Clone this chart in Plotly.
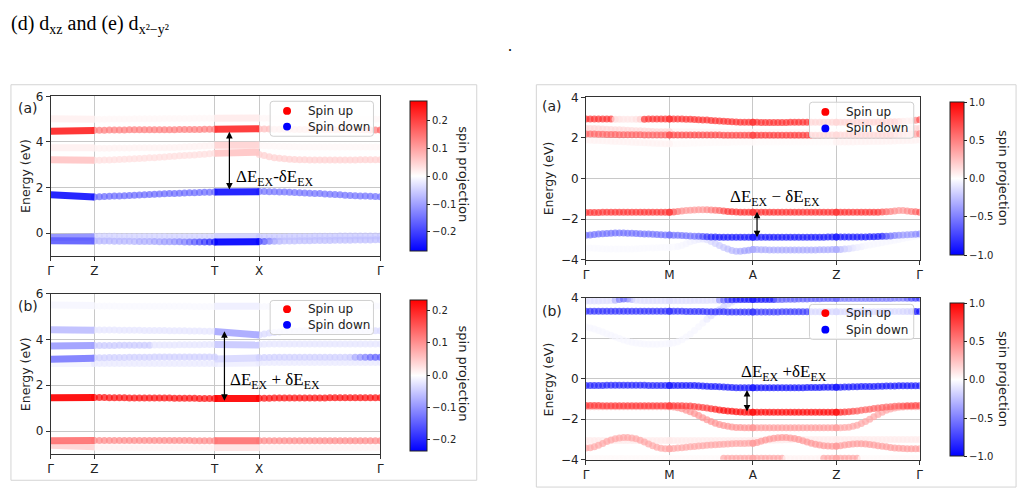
import plotly.graph_objects as go

W, H = 1027, 496

# ---------------- axes / ticks ----------------
KL_TICKS = [0.0, 0.1325, 0.497, 0.6325, 1.0]
KL_LABELS = ["Γ", "Z", "T", "X", "Γ"]
KR_TICKS = [0, 1, 2, 3, 4]
KR_LABELS = ["Γ", "M", "A", "Z", "Γ"]
LEFT_YTICKS = [0, 2, 4, 6]
LEFT_YTEXT = ["0", "2", "4", "6"]
RIGHT_YTICKS = [-4, -2, 0, 2, 4]
RIGHT_YTEXT = ["−4", "−2", "0", "2", "4"]
CB_LEFT_TICKS = [-0.2, -0.1, 0.0, 0.1, 0.2]
CB_LEFT_TEXT = ["−0.2", "−0.1", "0.0", "0.1", "0.2"]
CB_RIGHT_TICKS = [-1.0, -0.5, 0.0, 0.5, 1.0]
CB_RIGHT_TEXT = ["−1.0", "−0.5", "0.0", "0.5", "1.0"]
VMAX = [0.27, 0.235, 1.0, 1.0]
LEGEND_NAMES = ["Spin up", "Spin down"]
LEGEND_COLORS = ["red", "blue"]

# ---------------- LEFT (a) bands: Γ-Z (line), Z-T (25 pts), T-X (line), X-Γ (25 pts), spins ----------------
LA0_GZ = [5.02, 5.00]
LA0_ZT = [5.00, 5.00, 5.00, 5.01, 5.01, 5.01, 5.01, 5.01, 5.02, 5.02, 5.02, 5.02, 5.02, 5.02, 5.03,
          5.03, 5.03, 5.03, 5.03, 5.03, 5.04, 5.04, 5.04, 5.04, 5.04]
LA0_TX = [5.04, 5.05]
LA0_XG = [5.04, 5.04, 5.04, 5.03, 5.03, 5.03, 5.03, 5.03, 5.02, 5.02, 5.02, 5.02, 5.02, 5.02, 5.01,
          5.01, 5.01, 5.01, 5.01, 5.01, 5.00, 5.00, 5.00, 5.00, 5.00]
LA0_S = [0.015, 0.008, 0.02, 0.008]

LA1_GZ = [4.47, 4.50]
LA1_ZT = [4.51, 4.51, 4.51, 4.52, 4.52, 4.52, 4.52, 4.53, 4.53, 4.53, 4.53, 4.53, 4.54, 4.54, 4.54,
          4.54, 4.54, 4.55, 4.55, 4.55, 4.55, 4.55, 4.56, 4.56, 4.56]
LA1_TX = [4.56, 4.58]
LA1_XG = [4.57, 4.57, 4.57, 4.56, 4.56, 4.56, 4.56, 4.55, 4.55, 4.55, 4.55, 4.55, 4.55, 4.54, 4.54,
          4.54, 4.54, 4.54, 4.53, 4.53, 4.53, 4.53, 4.52, 4.52, 4.52]
LA1_S = [0.23, 0.14, 0.22,
         [0.07, 0.07, 0.07, 0.07, 0.07, 0.07, 0.07, 0.07, 0.07, 0.07, 0.07, 0.07, 0.07, 0.07, 0.07,
          0.07, 0.07, 0.07, 0.07, 0.07, 0.08, 0.09, 0.11, 0.14, 0.17]]

LA2_GZ = [3.22, 3.20]
LA2_ZT = [3.20, 3.20, 3.21, 3.21, 3.22, 3.23, 3.24, 3.25, 3.26, 3.27, 3.28, 3.30, 3.31, 3.33, 3.34,
          3.36, 3.37, 3.39, 3.40, 3.42, 3.43, 3.45, 3.46, 3.48, 3.50]
LA2_TX = [3.50, 3.55]
LA2_XG = [3.45, 3.40, 3.35, 3.31, 3.28, 3.26, 3.24, 3.23, 3.22, 3.22, 3.21, 3.21, 3.21, 3.21, 3.21,
          3.21, 3.21, 3.21, 3.21, 3.21, 3.22, 3.22, 3.22, 3.22, 3.22]
LA2_S = [0.06, 0.035, 0.06, 0.05]

LA2B_GZ = [3.75, 3.74]
LA2B_ZT = [3.72, 3.72, 3.72, 3.72, 3.73, 3.73, 3.73, 3.73, 3.74, 3.74, 3.74, 3.74, 3.75, 3.75, 3.75,
           3.76, 3.76, 3.77, 3.78, 3.79, 3.80, 3.81, 3.82, 3.83, 3.84]
LA2B_TX = [3.85, 3.86]
LA2B_XG = [3.84, 3.83, 3.82, 3.81, 3.80, 3.80, 3.79, 3.79, 3.78, 3.78, 3.78, 3.78, 3.78, 3.78, 3.78,
           3.78, 3.78, 3.78, 3.78, 3.78, 3.78, 3.78, 3.78, 3.78, 3.78]
LA2B_S = [0.015, 0.015, 0.045, 0.01]

LA3_GZ = [1.68, 1.58]
LA3_ZT = [1.58, 1.59, 1.60, 1.61, 1.62, 1.63, 1.64, 1.65, 1.66, 1.67, 1.68, 1.69, 1.70, 1.71, 1.72,
          1.73, 1.74, 1.75, 1.76, 1.77, 1.77, 1.78, 1.79, 1.79, 1.80]
LA3_TX = [1.80, 1.81]
LA3_XG = [1.82, 1.82, 1.81, 1.81, 1.80, 1.80, 1.79, 1.78, 1.77, 1.76, 1.75, 1.74, 1.73, 1.71, 1.70,
          1.69, 1.68, 1.66, 1.65, 1.64, 1.63, 1.62, 1.61, 1.60, 1.59]
LA3_S = [-0.25, -0.16, -0.25, -0.15]

LA4A_GZ = [-0.20, -0.18]
LA4A_ZT = [-0.14, -0.14, -0.14, -0.14, -0.14, -0.15, -0.15, -0.15, -0.15, -0.15, -0.15, -0.15, -0.15,
           -0.15, -0.15, -0.16, -0.16, -0.16, -0.16, -0.16, -0.16, -0.16, -0.17, -0.17, -0.17]
LA4A_TX = [-0.17, -0.17]
LA4A_XG = [-0.17, -0.17, -0.16, -0.16, -0.16, -0.16, -0.15, -0.15, -0.15, -0.15, -0.15, -0.14, -0.14,
           -0.14, -0.14, -0.14, -0.13, -0.13, -0.13, -0.13, -0.13, -0.13, -0.13, -0.13, -0.13]
LA4A_S = [-0.12, -0.05, -0.05, -0.06]

LA4_GZ = [-0.34, -0.35]
LA4_ZT = [-0.35, -0.35, -0.35, -0.35, -0.36, -0.36, -0.36, -0.36, -0.37, -0.37, -0.37, -0.37, -0.37,
          -0.38, -0.38, -0.38, -0.38, -0.38, -0.39, -0.39, -0.39, -0.39, -0.40, -0.40, -0.40]
LA4_TX = [-0.40, -0.38]
LA4_XG = [-0.37, -0.37, -0.36, -0.36, -0.36, -0.35, -0.35, -0.35, -0.34, -0.34, -0.34, -0.33, -0.33,
          -0.33, -0.33, -0.32, -0.32, -0.32, -0.32, -0.31, -0.31, -0.31, -0.31, -0.30, -0.30]
LA4_S = [-0.17,
         [-0.08, -0.08, -0.08, -0.08, -0.08, -0.08, -0.08, -0.08, -0.08, -0.09, -0.09, -0.09, -0.10,
          -0.10, -0.11, -0.11, -0.12, -0.13, -0.14, -0.16, -0.18, -0.20, -0.22, -0.24, -0.26],
         -0.27,
         [-0.22, -0.18, -0.14, -0.10, -0.08, -0.07, -0.07, -0.07, -0.07, -0.07, -0.07, -0.07, -0.07,
          -0.07, -0.07, -0.07, -0.07, -0.07, -0.07, -0.07, -0.07, -0.07, -0.07, -0.07, -0.07]]

# ---------------- LEFT (b) bands ----------------
LB7_GZ = [5.50, 5.48]
LB7_ZT = [5.46, 5.46, 5.46, 5.46, 5.46, 5.45, 5.45, 5.45, 5.45, 5.45, 5.45, 5.45, 5.45, 5.45, 5.45,
          5.45, 5.45, 5.45, 5.45, 5.45, 5.44, 5.44, 5.44, 5.44, 5.44]
LB7_TX = [5.45, 5.45]
LB7_XG = [5.44, 5.44, 5.44, 5.44, 5.44, 5.45, 5.45, 5.45, 5.45, 5.45, 5.45, 5.45, 5.45, 5.45, 5.45,
          5.45, 5.45, 5.45, 5.45, 5.45, 5.46, 5.46, 5.46, 5.46, 5.46]
LB7_S = [-0.008, -0.006, -0.015, -0.006]

LB3_GZ = [4.43, 4.40]
LB3_ZT = [4.41, 4.41, 4.41, 4.41, 4.41, 4.40, 4.40, 4.40, 4.40, 4.40, 4.39, 4.39, 4.39, 4.39, 4.39,
          4.38, 4.38, 4.38, 4.38, 4.37, 4.37, 4.37, 4.36, 4.36, 4.36]
LB3_TX = [4.35, 4.20]
LB3_XG = [4.20, 4.24, 4.28, 4.31, 4.33, 4.35, 4.36, 4.37, 4.38, 4.38, 4.38, 4.38, 4.38, 4.38, 4.38,
          4.38, 4.38, 4.38, 4.38, 4.38, 4.38, 4.38, 4.38, 4.38, 4.38]
LB3_S = [-0.06, -0.025, -0.08, -0.035]

LB4_GZ = [3.72, 3.74]
LB4_ZT = [3.74, 3.74, 3.74, 3.74, 3.74, 3.75, 3.75, 3.75, 3.75, 3.75, 3.75, 3.75, 3.76, 3.76, 3.76,
          3.76, 3.76, 3.77, 3.77, 3.77, 3.77, 3.77, 3.78, 3.78, 3.78]
LB4_TX = [3.78, 3.76]
LB4_XG = [3.78, 3.79, 3.80, 3.80, 3.80, 3.80, 3.80, 3.80, 3.80, 3.80, 3.80, 3.80, 3.80, 3.80, 3.80,
          3.80, 3.80, 3.80, 3.80, 3.80, 3.80, 3.80, 3.80, 3.80, 3.80]
LB4_S = [-0.09,
         [-0.05, -0.05, -0.05, -0.05, -0.05, -0.05, -0.05, -0.05, -0.05, -0.05, -0.05, -0.05, -0.025,
          -0.025, -0.025, -0.025, -0.025, -0.025, -0.025, -0.025, -0.025, -0.025, -0.025, -0.025, -0.025],
         -0.05, -0.025]

LB5_GZ = [3.14, 3.18]
LB5_ZT = [3.20, 3.20, 3.20, 3.21, 3.21, 3.21, 3.21, 3.22, 3.22, 3.22, 3.22, 3.22, 3.23, 3.23, 3.23,
          3.23, 3.23, 3.24, 3.24, 3.24, 3.24, 3.24, 3.24, 3.24, 3.24]
LB5_TX = [3.15, 3.20]
LB5_XG = [3.20, 3.21, 3.21, 3.22, 3.22, 3.22, 3.22, 3.22, 3.22, 3.22, 3.22, 3.22, 3.22, 3.22, 3.22,
          3.22, 3.22, 3.22, 3.22, 3.22, 3.22, 3.22, 3.22, 3.22, 3.22]
LB5_S = [-0.12, -0.045, -0.035,
         [-0.045, -0.045, -0.045, -0.045, -0.045, -0.045, -0.045, -0.045, -0.045, -0.045, -0.045, -0.045,
          -0.045, -0.045, -0.045, -0.045, -0.045, -0.045, -0.05, -0.08, -0.10, -0.12, -0.14, -0.15, -0.15]]

LB6_GZ = [2.95, 2.95]
LB6_ZT = [2.95, 2.95, 2.95, 2.95, 2.95, 2.95, 2.95, 2.95, 2.95, 2.95, 2.95, 2.95, 2.95, 2.95, 2.95,
          2.95, 2.95, 2.95, 2.95, 2.95, 2.95, 2.95, 2.95, 2.95, 2.95]
LB6_TX = [2.95, 2.97]
LB6_XG = [2.98, 2.99, 3.00, 3.00, 3.00, 3.00, 3.00, 3.00, 3.00, 3.00, 3.00, 3.00, 3.00, 3.00, 3.00,
          3.00, 3.00, 3.00, 3.00, 3.00, 3.00, 3.00, 3.00, 3.00, 3.00]
LB6_S = [-0.01, -0.02, -0.015, -0.02]

LB1_GZ = [1.46, 1.47]
LB1_ZT = [1.47, 1.47, 1.47, 1.46, 1.46, 1.46, 1.46, 1.45, 1.45, 1.45, 1.45, 1.44, 1.44, 1.44, 1.44,
          1.44, 1.43, 1.43, 1.43, 1.43, 1.43, 1.42, 1.42, 1.42, 1.42]
LB1_TX = [1.42, 1.42]
LB1_XG = [1.43, 1.43, 1.43, 1.44, 1.44, 1.44, 1.44, 1.44, 1.45, 1.45, 1.45, 1.45, 1.45, 1.45, 1.46,
          1.46, 1.46, 1.46, 1.46, 1.46, 1.46, 1.46, 1.46, 1.46, 1.46]
LB1_S = [0.235, 0.225, 0.235, 0.225]

LB2_GZ = [-0.42, -0.41]
LB2_ZT = [-0.41, -0.41, -0.41, -0.41, -0.41, -0.41, -0.41, -0.41, -0.41, -0.41, -0.41, -0.41, -0.41,
          -0.41, -0.41, -0.41, -0.41, -0.41, -0.41, -0.41, -0.42, -0.42, -0.42, -0.42, -0.42]
LB2_TX = [-0.42, -0.42]
LB2_XG = [-0.42, -0.42, -0.42, -0.42, -0.42, -0.42, -0.42, -0.42, -0.42, -0.42, -0.42, -0.42, -0.42,
          -0.42, -0.42, -0.42, -0.42, -0.42, -0.42, -0.42, -0.42, -0.42, -0.42, -0.42, -0.42]
LB2_S = [0.13, 0.11, 0.13, 0.11]

LB2B_GZ = [-0.62, -0.68]
LB2B_ZT = [-0.70, -0.70, -0.71, -0.71, -0.71, -0.72, -0.72, -0.72, -0.72, -0.72, -0.72, -0.72, -0.72,
           -0.72, -0.72, -0.72, -0.72, -0.72, -0.72, -0.72, -0.72, -0.72, -0.72, -0.72, -0.72]
LB2B_TX = [-0.72, -0.72]
LB2B_XG = [-0.72, -0.72, -0.72, -0.72, -0.72, -0.72, -0.72, -0.72, -0.72, -0.72, -0.72, -0.72, -0.72,
           -0.72, -0.72, -0.72, -0.72, -0.72, -0.72, -0.72, -0.72, -0.72, -0.72, -0.72, -0.72]
LB2B_S = [0.04, 0.012, 0.025, 0.012]

# ---------------- RIGHT (a) bands: Γ-M, M-A, A-Z, Z-Γ (21 pts each) ----------------
RA1_E = [[2.93, 2.93, 2.93, 2.93, 2.93, 2.93, 2.93, 2.92, 2.92, 2.92, 2.92, 2.92, 2.92, 2.92, 2.92, 2.93, 2.93, 2.93, 2.93, 2.93, 2.93],
         [2.93, 2.93, 2.93, 2.93, 2.92, 2.92, 2.91, 2.90, 2.89, 2.88, 2.86, 2.85, 2.84, 2.82, 2.81, 2.80, 2.79, 2.78, 2.78, 2.77, 2.77],
         [2.77, 2.77, 2.76, 2.76, 2.76, 2.76, 2.76, 2.76, 2.76, 2.77, 2.77, 2.77, 2.77, 2.77, 2.77, 2.78, 2.78, 2.78, 2.78, 2.78, 2.78],
         [2.78, 2.78, 2.78, 2.78, 2.78, 2.78, 2.78, 2.78, 2.78, 2.78, 2.79, 2.79, 2.79, 2.80, 2.80, 2.81, 2.82, 2.83, 2.85, 2.87, 2.90]]
RA1_S = [[0.8, 0.8, 0.8, 0.8, 0.8, 0.8, 0.8, 0.15, 0.12, 0.1, 0.1, 0.1, 0.12, 0.2, 0.8, 0.8, 0.8, 0.8, 0.8, 0.8, 0.8],
         0.8, 0.8,
         [0.8, 0.8, 0.8, 0.8, 0.8, 0.8, 0.8, 0.8, 0.8, 0.8, 0.8, 0.8, 0.8, 0.8, 0.8, 0.6, 0.4, 0.3, 0.3, 0.45, 0.7]]

RA2_E = [[2.20, 2.19, 2.19, 2.18, 2.18, 2.17, 2.17, 2.17, 2.16, 2.16, 2.16, 2.16, 2.16, 2.16, 2.15, 2.15, 2.15, 2.15, 2.15, 2.15, 2.15],
         [2.15, 2.15, 2.15, 2.15, 2.15, 2.15, 2.14, 2.14, 2.14, 2.14, 2.14, 2.14, 2.14, 2.13, 2.13, 2.13, 2.13, 2.13, 2.13, 2.13, 2.13],
         [2.13, 2.13, 2.13, 2.13, 2.13, 2.13, 2.13, 2.13, 2.13, 2.13, 2.13, 2.13, 2.13, 2.13, 2.13, 2.13, 2.13, 2.14, 2.14, 2.14, 2.14],
         [2.14, 2.14, 2.14, 2.14, 2.14, 2.14, 2.14, 2.14, 2.14, 2.14, 2.14, 2.15, 2.15, 2.15, 2.16, 2.16, 2.17, 2.18, 2.19, 2.20, 2.21]]
RA2_S = [0.6, 0.7, 0.75,
         [0.75, 0.75, 0.75, 0.75, 0.75, 0.75, 0.75, 0.75, 0.75, 0.75, 0.75, 0.75, 0.75, 0.75, 0.6, 0.5, 0.4, 0.35, 0.3, 0.35, 0.5]]

RA3_E = [[2.48, 2.47, 2.46, 2.45, 2.44, 2.43, 2.42, 2.41, 2.40, 2.39, 2.38, 2.37, 2.36, 2.35, 2.34, 2.33, 2.32, 2.31, 2.30, 2.30, 2.30],
         [2.30, 2.30, 2.30, 2.30, 2.30, 2.30, 2.30, 2.29, 2.29, 2.29, 2.29, 2.29, 2.29, 2.29, 2.28, 2.28, 2.28, 2.28, 2.28, 2.28, 2.28],
         [2.28, 2.28, 2.28, 2.28, 2.28, 2.28, 2.28, 2.28, 2.28, 2.28, 2.28, 2.28, 2.28, 2.28, 2.28, 2.28, 2.28, 2.28, 2.28, 2.28, 2.28],
         [2.28, 2.28, 2.28, 2.28, 2.29, 2.29, 2.30, 2.30, 2.31, 2.32, 2.33, 2.34, 2.35, 2.36, 2.38, 2.39, 2.41, 2.43, 2.45, 2.47, 2.48]]
RA3_S = [0.15, 0.04, 0.03,
         [0.03, 0.03, 0.03, 0.03, 0.03, 0.03, 0.03, 0.03, 0.03, 0.03, 0.03, 0.03, 0.03, 0.03, 0.06, 0.08, 0.10, 0.12, 0.15, 0.17, 0.17]]

RA4_E = [[1.90, 1.89, 1.88, 1.87, 1.86, 1.85, 1.84, 1.83, 1.82, 1.81, 1.80, 1.79, 1.78, 1.77, 1.76, 1.75, 1.74, 1.73, 1.73, 1.72, 1.72],
         [1.72, 1.72, 1.72, 1.73, 1.73, 1.74, 1.74, 1.75, 1.75, 1.76, 1.76, 1.77, 1.77, 1.78, 1.78, 1.79, 1.79, 1.80, 1.80, 1.80, 1.80],
         [1.80, 1.80, 1.80, 1.80, 1.80, 1.80, 1.80, 1.80, 1.80, 1.80, 1.80, 1.80, 1.80, 1.80, 1.80, 1.80, 1.80, 1.80, 1.80, 1.80, 1.80],
         [1.80, 1.80, 1.80, 1.80, 1.80, 1.81, 1.81, 1.81, 1.82, 1.82, 1.83, 1.83, 1.84, 1.84, 1.85, 1.86, 1.86, 1.87, 1.88, 1.89, 1.90]]
RA4_S = [0.05, 0.02, 0.015, 0.05]

RA5_E = [[-1.67, -1.67, -1.67, -1.67, -1.66, -1.66, -1.66, -1.66, -1.66, -1.66, -1.66, -1.66, -1.66, -1.66, -1.66, -1.66, -1.66, -1.66, -1.66, -1.66, -1.66],
         [-1.66, -1.65, -1.63, -1.60, -1.58, -1.56, -1.55, -1.54, -1.54, -1.54, -1.55, -1.56, -1.58, -1.60, -1.62, -1.64, -1.65, -1.66, -1.66, -1.66, -1.66],
         [-1.66, -1.66, -1.66, -1.66, -1.66, -1.66, -1.66, -1.66, -1.66, -1.66, -1.66, -1.66, -1.66, -1.66, -1.66, -1.66, -1.66, -1.66, -1.66, -1.66, -1.66],
         [-1.66, -1.66, -1.66, -1.66, -1.66, -1.66, -1.66, -1.66, -1.66, -1.66, -1.66, -1.65, -1.64, -1.62, -1.60, -1.58, -1.58, -1.60, -1.62, -1.64, -1.66]]
RA5_S = [0.78,
         [0.78, 0.7, 0.55, 0.45, 0.4, 0.4, 0.4, 0.4, 0.4, 0.45, 0.5, 0.55, 0.6, 0.7, 0.78, 0.8, 0.8, 0.8, 0.8, 0.8, 0.8],
         0.8,
         [0.8, 0.8, 0.8, 0.8, 0.8, 0.8, 0.8, 0.8, 0.8, 0.8, 0.8, 0.7, 0.6, 0.5, 0.45, 0.4, 0.4, 0.45, 0.5, 0.6, 0.7]]

RA6_E = [[-2.80, -2.78, -2.76, -2.74, -2.72, -2.71, -2.70, -2.69, -2.69, -2.69, -2.70, -2.70, -2.71, -2.72, -2.73, -2.74, -2.75, -2.76, -2.77, -2.78, -2.79],
         [-2.79, -2.80, -2.80, -2.81, -2.82, -2.83, -2.84, -2.85, -2.86, -2.87, -2.88, -2.88, -2.89, -2.89, -2.90, -2.90, -2.90, -2.90, -2.90, -2.90, -2.90],
         [-2.90, -2.90, -2.90, -2.90, -2.90, -2.90, -2.90, -2.90, -2.90, -2.90, -2.90, -2.90, -2.89, -2.89, -2.89, -2.89, -2.89, -2.89, -2.88, -2.88, -2.88],
         [-2.88, -2.88, -2.88, -2.88, -2.88, -2.88, -2.88, -2.88, -2.87, -2.87, -2.86, -2.85, -2.84, -2.83, -2.81, -2.80, -2.78, -2.77, -2.76, -2.75, -2.74]]
RA6_S = [-0.55,
         [-0.55, -0.55, -0.55, -0.55, -0.55, -0.55, -0.55, -0.6, -0.7, -0.8, -0.85, -0.9, -0.9, -0.9, -0.9, -0.9, -0.9, -0.9, -0.9, -0.9, -0.9],
         -0.9,
         [-0.9, -0.9, -0.9, -0.9, -0.9, -0.9, -0.9, -0.9, -0.9, -0.9, -0.9, -0.9, -0.7, -0.6, -0.5, -0.45, -0.4, -0.4, -0.4, -0.45, -0.5]]

RA7_E = [[-3.42, -3.43, -3.44, -3.45, -3.46, -3.47, -3.48, -3.48, -3.48, -3.48, -3.48, -3.47, -3.46, -3.45, -3.44, -3.43, -3.42, -3.41, -3.40, -3.40, -3.40],
         [-3.40, -3.38, -3.35, -3.30, -3.22, -3.12, -3.05, -3.00, -2.98, -3.02, -3.10, -3.20, -3.30, -3.40, -3.48, -3.55, -3.58, -3.58, -3.56, -3.53, -3.50],
         [-3.50, -3.50, -3.51, -3.51, -3.52, -3.52, -3.52, -3.52, -3.52, -3.52, -3.52, -3.52, -3.52, -3.52, -3.52, -3.52, -3.51, -3.51, -3.51, -3.50, -3.50],
         [-3.50, -3.50, -3.48, -3.46, -3.43, -3.40, -3.36, -3.32, -3.28, -3.24, -3.20, -3.16, -3.12, -3.08, -3.04, -3.00, -2.96, -2.92, -2.88, -2.84, -2.80]]
RA7_S = [-0.025,
         [-0.025, -0.025, -0.03, -0.03, -0.04, -0.05, -0.06, -0.08, -0.1, -0.12, -0.15, -0.18, -0.2, -0.22, -0.25, -0.28, -0.3, -0.33, -0.36, -0.38, -0.4],
         -0.33,
         [-0.33, -0.28, -0.22, -0.17, -0.12, -0.08, -0.06, -0.04, -0.03, -0.03, -0.03, -0.03, -0.03, -0.03, -0.03, -0.03, -0.03, -0.03, -0.03, -0.03, -0.03]]

# ---------------- RIGHT (b) bands ----------------
RB1_E = [[3.83, 3.83, 3.83, 3.83, 3.84, 3.84, 3.85, 3.87, 3.90, 3.93, 3.93, 3.90, 3.87, 3.85, 3.84, 3.84, 3.84, 3.84, 3.84, 3.84, 3.84],
         [3.84, 3.84, 3.84, 3.84, 3.84, 3.84, 3.85, 3.85, 3.86, 3.86, 3.87, 3.87, 3.88, 3.88, 3.89, 3.89, 3.90, 3.90, 3.90, 3.90, 3.90],
         [3.90, 3.90, 3.90, 3.90, 3.90, 3.91, 3.91, 3.91, 3.92, 3.92, 3.92, 3.93, 3.93, 3.93, 3.94, 3.94, 3.94, 3.95, 3.95, 3.95, 3.95],
         [3.95, 3.95, 3.95, 3.95, 3.95, 3.95, 3.95, 3.95, 3.95, 3.95, 3.95, 3.95, 3.95, 3.95, 3.96, 3.96, 3.96, 3.96, 3.96, 3.96, 3.96]]
RB1_S = [[-0.12, -0.12, -0.12, -0.12, -0.12, -0.12, -0.12, -0.3, -0.5, -0.6, -0.5, -0.3, -0.12, -0.12, -0.12, -0.12, -0.12, -0.12, -0.12, -0.12, -0.12],
         [-0.12, -0.12, -0.12, -0.12, -0.12, -0.12, -0.12, -0.12, -0.12, -0.12, -0.12, -0.12, -0.4, -0.6, -0.75, -0.85, -0.9, -0.9, -0.9, -0.9, -0.9],
         [-0.9, -0.9, -0.9, -0.9, -0.9, -0.9, -0.6, -0.6, -0.6, -0.6, -0.6, -0.6, -0.6, -0.6, -0.6, -0.6, -0.6, -0.6, -0.6, -0.6, -0.6],
         [-0.5, -0.5, -0.5, -0.5, -0.5, -0.5, -0.5, -0.5, -0.5, -0.5, -0.5, -0.5, -0.5, -0.5, -0.5, -0.5, -0.5, -0.6, -0.7, -0.75, -0.8]]

RB2_E = [[3.32, 3.32, 3.32, 3.32, 3.32, 3.32, 3.32, 3.32, 3.32, 3.32, 3.32, 3.32, 3.32, 3.32, 3.32, 3.32, 3.32, 3.32, 3.32, 3.32, 3.32],
         [3.32, 3.32, 3.32, 3.32, 3.31, 3.31, 3.31, 3.31, 3.31, 3.30, 3.30, 3.30, 3.30, 3.30, 3.29, 3.29, 3.29, 3.29, 3.29, 3.29, 3.29],
         [3.29, 3.29, 3.29, 3.29, 3.29, 3.29, 3.29, 3.30, 3.30, 3.30, 3.30, 3.30, 3.30, 3.30, 3.30, 3.30, 3.30, 3.30, 3.30, 3.30, 3.30],
         [3.30, 3.30, 3.30, 3.30, 3.30, 3.30, 3.30, 3.30, 3.30, 3.30, 3.30, 3.31, 3.31, 3.31, 3.31, 3.31, 3.31, 3.31, 3.31, 3.31, 3.31]]
RB2_S = [-0.8, -0.8, -0.75,
         [-0.7, -0.7, -0.7, -0.7, -0.7, -0.7, -0.7, -0.7, -0.7, -0.7, -0.7, -0.7, -0.7, -0.7, -0.7, -0.7, -0.8, -0.85, -0.9, -0.95, -0.95]]

RB3_E = [[2.55, 2.50, 2.45, 2.38, 2.30, 2.22, 2.14, 2.06, 1.98, 1.91, 1.85, 1.80, 1.76, 1.73, 1.71, 1.70, 1.70, 1.70, 1.71, 1.72, 1.73],
         [1.73, 1.76, 1.82, 1.92, 2.05, 2.20, 2.38, 2.56, 2.75, 2.93, 3.10, 3.25, 3.40, 3.55, 3.68, 3.78, 3.85, 3.88, 3.90, 3.92, 3.93],
         [3.93, 3.95, 3.96, 3.97, 3.97, 3.97, 3.97, 3.97, 3.97, 3.97, 3.97, 3.97, 3.97, 3.97, 3.97, 3.97, 3.97, 3.97, 3.97, 3.97, 3.97],
         [3.97, 3.97, 3.97, 3.97, 3.97, 3.97, 3.97, 3.97, 3.97, 3.97, 3.98, 3.98, 3.98, 3.98, 3.98, 3.98, 3.99, 3.99, 3.99, 3.99, 3.99]]
RB3_S = [-0.03,
         [-0.03, -0.03, -0.03, -0.03, -0.03, -0.03, -0.03, -0.03, -0.04, -0.08, -0.12, -0.15, -0.18, -0.18, -0.15, -0.12, -0.1, -0.08, -0.08, -0.08, -0.08],
         -0.06, -0.05]

RB4_E = [[-0.34, -0.34, -0.33, -0.33, -0.33, -0.32, -0.32, -0.32, -0.32, -0.32, -0.32, -0.32, -0.32, -0.32, -0.32, -0.33, -0.33, -0.33, -0.33, -0.33, -0.33],
         [-0.33, -0.33, -0.33, -0.33, -0.33, -0.34, -0.34, -0.35, -0.36, -0.37, -0.38, -0.39, -0.40, -0.41, -0.42, -0.43, -0.44, -0.44, -0.45, -0.45, -0.45],
         [-0.45, -0.45, -0.45, -0.45, -0.45, -0.45, -0.45, -0.44, -0.44, -0.44, -0.44, -0.44, -0.44, -0.43, -0.43, -0.43, -0.43, -0.42, -0.42, -0.42, -0.42],
         [-0.42, -0.42, -0.41, -0.41, -0.40, -0.40, -0.39, -0.39, -0.38, -0.38, -0.37, -0.37, -0.36, -0.36, -0.36, -0.35, -0.35, -0.35, -0.35, -0.35, -0.35]]
RB4_S = [-0.85, -0.9, -0.92, -0.9]

RB5_E = [[-1.32, -1.32, -1.32, -1.32, -1.33, -1.33, -1.33, -1.33, -1.33, -1.33, -1.33, -1.33, -1.33, -1.33, -1.33, -1.33, -1.33, -1.33, -1.33, -1.33, -1.33],
         [-1.33, -1.33, -1.33, -1.33, -1.34, -1.35, -1.37, -1.39, -1.42, -1.45, -1.48, -1.51, -1.54, -1.57, -1.59, -1.61, -1.63, -1.64, -1.65, -1.65, -1.65],
         [-1.65, -1.65, -1.65, -1.65, -1.65, -1.65, -1.65, -1.65, -1.65, -1.65, -1.65, -1.65, -1.65, -1.65, -1.65, -1.65, -1.65, -1.65, -1.65, -1.65, -1.65],
         [-1.65, -1.65, -1.64, -1.63, -1.61, -1.59, -1.56, -1.53, -1.50, -1.47, -1.44, -1.42, -1.40, -1.38, -1.36, -1.35, -1.34, -1.33, -1.33, -1.32, -1.32]]
RB5_S = [0.75,
         [0.75, 0.75, 0.75, 0.75, 0.75, 0.75, 0.75, 0.75, 0.75, 0.75, 0.8, 0.85, 0.9, 0.95, 0.95, 0.95, 0.95, 0.95, 0.95, 0.95, 0.95],
         0.95,
         [0.9, 0.85, 0.8, 0.75, 0.7, 0.65, 0.6, 0.6, 0.6, 0.6, 0.6, 0.6, 0.6, 0.6, 0.6, 0.6, 0.65, 0.7, 0.7, 0.7, 0.7]]

RB6_E = [[-1.38, -1.38, -1.38, -1.38, -1.38, -1.38, -1.38, -1.38, -1.38, -1.38, -1.38, -1.38, -1.38, -1.38, -1.38, -1.38, -1.38, -1.38, -1.38, -1.38, -1.38],
         [-1.38, -1.40, -1.43, -1.48, -1.55, -1.63, -1.72, -1.82, -1.92, -2.02, -2.11, -2.19, -2.26, -2.31, -2.35, -2.38, -2.40, -2.41, -2.42, -2.42, -2.42],
         [-2.42, -2.42, -2.42, -2.42, -2.42, -2.42, -2.42, -2.42, -2.42, -2.42, -2.42, -2.42, -2.42, -2.42, -2.42, -2.42, -2.42, -2.42, -2.42, -2.42, -2.42],
         [-2.42, -2.42, -2.41, -2.39, -2.35, -2.29, -2.21, -2.11, -2.00, -1.88, -1.76, -1.65, -1.56, -1.49, -1.44, -1.41, -1.39, -1.38, -1.38, -1.38, -1.38]]
RB6_S = [0.3, 0.42, 0.38, 0.35]

RB7_E = [[-3.42, -3.40, -3.35, -3.28, -3.19, -3.10, -3.02, -2.96, -2.92, -2.90, -2.90, -2.92, -2.96, -3.03, -3.12, -3.22, -3.31, -3.38, -3.43, -3.45, -3.45],
         [-3.45, -3.44, -3.42, -3.40, -3.38, -3.36, -3.34, -3.32, -3.30, -3.28, -3.27, -3.25, -3.24, -3.23, -3.22, -3.21, -3.20, -3.20, -3.19, -3.18, -3.18],
         [-3.18, -3.14, -3.08, -3.02, -2.97, -2.93, -2.91, -2.90, -2.90, -2.92, -2.95, -3.00, -3.06, -3.12, -3.18, -3.23, -3.27, -3.30, -3.32, -3.33, -3.33],
         [-3.32, -3.30, -3.27, -3.24, -3.22, -3.21, -3.21, -3.22, -3.24, -3.27, -3.30, -3.33, -3.36, -3.39, -3.41, -3.43, -3.44, -3.45, -3.45, -3.45, -3.45]]
RB7_S = [0.35, 0.35, 0.4, 0.38]

RB8_E = [[-3.05, -3.05, -3.05, -3.05, -3.05, -3.05, -3.05, -3.05, -3.05, -3.05, -3.05, -3.05, -3.05, -3.05, -3.05, -3.05, -3.05, -3.05, -3.05, -3.05, -3.05],
         [-3.05, -3.05, -3.05, -3.05, -3.05, -3.05, -3.05, -3.05, -3.05, -3.05, -3.05, -3.05, -3.05, -3.05, -3.05, -3.05, -3.05, -3.05, -3.05, -3.05, -3.05],
         [-3.05, -3.05, -3.04, -3.04, -3.03, -3.03, -3.02, -3.02, -3.01, -3.01, -3.00, -3.00, -3.00, -3.00, -3.00, -3.00, -3.00, -3.00, -3.00, -3.00, -3.00],
         [-3.00, -3.00, -3.00, -3.00, -3.00, -3.00, -3.00, -3.00, -3.00, -3.00, -3.00, -3.00, -3.00, -3.00, -3.00, -3.00, -3.00, -3.00, -3.00, -3.00, -3.00]]
RB8_S = [0.08, 0.08, 0.08, 0.08]

RB9_E = [[-3.93, -3.93, -3.93, -3.93, -3.93, -3.93, -3.93, -3.93, -3.93, -3.93, -3.93, -3.93, -3.93, -3.93, -3.93, -3.93, -3.93, -3.93, -3.93, -3.93, -3.93],
         [-3.93, -3.93, -3.93, -3.93, -3.93, -3.93, -3.93, -3.93, -3.93, -3.93, -3.93, -3.93, -3.93, -3.92, -3.92, -3.92, -3.92, -3.92, -3.92, -3.92, -3.92],
         [-3.92, -3.92, -3.92, -3.92, -3.92, -3.92, -3.92, -3.92, -3.92, -3.93, -3.93, -3.93, -3.93, -3.93, -3.93, -3.93, -3.92, -3.92, -3.92, -3.92, -3.92],
         [-3.92, -3.92, -3.92, -3.92, -3.92, -3.92, -3.93, -3.93, -3.93, -3.93, -3.93, -3.93, -3.93, -3.93, -3.93, -3.93, -3.93, -3.93, -3.93, -3.93, -3.93]]
RB9_S = [0.02,
         [0.02, 0.02, 0.02, 0.02, 0.02, 0.02, 0.02, 0.02, 0.02, 0.02, 0.02, 0.02, 0.02, 0.35, 0.35, 0.35, 0.35, 0.35, 0.35, 0.35, 0.35],
         [0.35, 0.35, 0.35, 0.35, 0.35, 0.35, 0.35, 0.35, 0.05, 0.05, 0.05, 0.05, 0.05, 0.05, 0.05, 0.05, 0.05, 0.35, 0.35, 0.35, 0.35],
         [0.35, 0.35, 0.35, 0.35, 0.35, 0.35, 0.02, 0.02, 0.02, 0.02, 0.02, 0.02, 0.02, 0.02, 0.02, 0.02, 0.02, 0.02, 0.02, 0.02, 0.02]]

LEFT_A_BANDS = [
    (LA0_GZ, LA0_ZT, LA0_TX, LA0_XG, LA0_S),
    (LA1_GZ, LA1_ZT, LA1_TX, LA1_XG, LA1_S),
    (LA2_GZ, LA2_ZT, LA2_TX, LA2_XG, LA2_S),
    (LA2B_GZ, LA2B_ZT, LA2B_TX, LA2B_XG, LA2B_S),
    (LA3_GZ, LA3_ZT, LA3_TX, LA3_XG, LA3_S),
    (LA4A_GZ, LA4A_ZT, LA4A_TX, LA4A_XG, LA4A_S),
    (LA4_GZ, LA4_ZT, LA4_TX, LA4_XG, LA4_S),
]
LEFT_B_BANDS = [
    (LB7_GZ, LB7_ZT, LB7_TX, LB7_XG, LB7_S),
    (LB3_GZ, LB3_ZT, LB3_TX, LB3_XG, LB3_S),
    (LB4_GZ, LB4_ZT, LB4_TX, LB4_XG, LB4_S),
    (LB5_GZ, LB5_ZT, LB5_TX, LB5_XG, LB5_S),
    (LB6_GZ, LB6_ZT, LB6_TX, LB6_XG, LB6_S),
    (LB1_GZ, LB1_ZT, LB1_TX, LB1_XG, LB1_S),
    (LB2_GZ, LB2_ZT, LB2_TX, LB2_XG, LB2_S),
    (LB2B_GZ, LB2B_ZT, LB2B_TX, LB2B_XG, LB2B_S),
]
RIGHT_A_BANDS = [(RA1_E, RA1_S), (RA2_E, RA2_S), (RA3_E, RA3_S), (RA4_E, RA4_S),
                 (RA5_E, RA5_S), (RA6_E, RA6_S), (RA7_E, RA7_S)]
RIGHT_B_BANDS = [(RB1_E, RB1_S), (RB2_E, RB2_S), (RB3_E, RB3_S), (RB4_E, RB4_S), (RB5_E, RB5_S),
                 (RB6_E, RB6_S), (RB7_E, RB7_S), (RB8_E, RB8_S), (RB9_E, RB9_S)]

# ---------------- helpers ----------------
BWR = [[0.0, "rgb(0,0,255)"], [0.5, "rgb(255,255,255)"], [1.0, "rgb(255,0,0)"]]
FONT = "DejaVu Sans"
SERIF = "Liberation Serif"


def px(x):
    return x / W


def py(y):
    return 1 - y / H


def bwr_rgb(v, vmax):
    t = max(-1.0, min(1.0, v / vmax))
    if t >= 0:
        return 255, 255 * (1 - t), 255 * (1 - t)
    return 255 * (1 + t), 255 * (1 + t), 255


def per_point(s, n):
    if isinstance(s, (list, tuple)):
        s = list(s)
        return (s + [s[-1]] * n)[:n]
    return [s] * n


items = {}


def add(panel, weight, trace):
    items.setdefault(panel, []).append((weight, trace))


def add_left(panel, bands, xa, ya, cax, vmax, msize=7, mop=0.72):
    for band in bands:
        segs, spins = band[:4], band[4]
        for si, vals in enumerate(segs):
            k0, k1 = KL_TICKS[si], KL_TICKS[si + 1]
            n = len(vals)
            xs = [k0 + (k1 - k0) * i / (n - 1) for i in range(n)]
            if si in (0, 2):
                sp = spins[si]
                r, g, b = bwr_rgb(sp, vmax)
                add(panel, abs(sp) / vmax, go.Scatter(
                    x=xs, y=vals, mode="lines", xaxis=xa, yaxis=ya,
                    line=dict(color=f"rgba({r:.0f},{g:.0f},{b:.0f},0.92)", width=msize),
                    showlegend=False, hoverinfo="skip"))
            else:
                cols = per_point(spins[si], n)
                w = sum(abs(c) for c in cols) / n / vmax
                add(panel, w, go.Scatter(
                    x=xs, y=vals, mode="markers", xaxis=xa, yaxis=ya,
                    marker=dict(color=cols, coloraxis=cax, size=msize, opacity=mop, line=dict(width=0)),
                    showlegend=False, hoverinfo="skip"))


def add_right(panel, bands, xa, ya, cax, vmax, msize=7, mop=0.7):
    for segs, spins in bands:
        for si, vals in enumerate(segs):
            n = len(vals)
            xs = [KR_TICKS[si] + (KR_TICKS[si + 1] - KR_TICKS[si]) * i / (n - 1) for i in range(n)]
            cols = per_point(spins[si], n)
            w = sum(abs(c) for c in cols) / n / vmax
            add(panel, w, go.Scatter(
                x=xs, y=vals, mode="markers", xaxis=xa, yaxis=ya,
                marker=dict(color=cols, coloraxis=cax, size=msize, opacity=mop, line=dict(width=0)),
                showlegend=False, hoverinfo="skip"))


add_left("la", LEFT_A_BANDS, "x", "y", "coloraxis", VMAX[0])
add_left("lb", LEFT_B_BANDS, "x2", "y2", "coloraxis2", VMAX[1])
add_right("ra", RIGHT_A_BANDS, "x3", "y3", "coloraxis3", VMAX[2])
add_right("rb", RIGHT_B_BANDS, "x4", "y4", "coloraxis4", VMAX[3])

fig = go.Figure()
for p in ["la", "lb", "ra", "rb"]:
    for w, tr in sorted(items[p], key=lambda t: t[0]):
        fig.add_trace(tr)

TICKFONT = dict(family=FONT, size=12, color="#222")


def xax(x0, x1, anchor, ticks, labels, rng):
    return dict(domain=[px(x0), px(x1)], anchor=anchor, range=rng, tickvals=ticks, ticktext=labels,
                showline=True, mirror=True, linecolor="#333", linewidth=1, ticks="outside", ticklen=4,
                tickcolor="#333", showgrid=True, gridcolor="#c8c8c8", gridwidth=1, zeroline=False,
                tickfont=TICKFONT, fixedrange=True)


def yax(y0, y1, anchor, ticks, labels, rng):
    return dict(domain=[py(y1), py(y0)], anchor=anchor, range=rng, tickvals=ticks, ticktext=labels,
                showline=True, mirror=True, linecolor="#333", linewidth=1, ticks="outside", ticklen=4,
                tickcolor="#333", showgrid=True, gridcolor="#c8c8c8", gridwidth=1, zeroline=False,
                tickfont=TICKFONT, fixedrange=True)


def cax(vmax, x, ytop, length, thick, ticks, texts):
    return dict(cmin=-vmax, cmax=vmax, colorscale=BWR, showscale=True,
                colorbar=dict(x=px(x), xanchor="left", y=py(ytop), yanchor="top",
                              len=length, lenmode="pixels", thickness=thick, thicknessmode="pixels",
                              xpad=0, ypad=0, outlinewidth=1, outlinecolor="#222",
                              tickvals=ticks, ticktext=texts, ticks="outside", ticklen=3,
                              tickcolor="#222", tickfont=dict(family=FONT, size=10, color="#222")))


annotations = []
shapes = []


def txt(x, y, text, size=12, angle=0, family=FONT, xanchor="center", color="#222"):
    annotations.append(dict(x=px(x), y=py(y), xref="paper", yref="paper", text=text, showarrow=False,
                            textangle=angle, xanchor=xanchor, yanchor="middle",
                            font=dict(family=family, size=size, color=color)))


def arrow(xr, yr, xv, y0, y1):
    annotations.append(dict(x=xv, y=y1, ax=xv, ay=y0, xref=xr, yref=yr, axref=xr, ayref=yr, text="",
                            showarrow=True, arrowhead=2, startarrowhead=2, arrowside="end+start",
                            arrowsize=1.1, arrowwidth=1.2, arrowcolor="black", startarrowsize=1.1))


def label(xr, yr, xv, yv, text, xanchor="left"):
    annotations.append(dict(x=xv, y=yv, xref=xr, yref=yr, text=text, showarrow=False, xanchor=xanchor,
                            yanchor="middle", font=dict(family=SERIF, size=17, color="black")))


def rounded_rect(x0, y0, x1, y1, r=3):
    pts = (f"M {px(x0 + r)},{py(y0)} L {px(x1 - r)},{py(y0)} Q {px(x1)},{py(y0)} {px(x1)},{py(y0 + r)} "
           f"L {px(x1)},{py(y1 - r)} Q {px(x1)},{py(y1)} {px(x1 - r)},{py(y1)} "
           f"L {px(x0 + r)},{py(y1)} Q {px(x0)},{py(y1)} {px(x0)},{py(y1 - r)} "
           f"L {px(x0)},{py(y0 + r)} Q {px(x0)},{py(y0)} {px(x0 + r)},{py(y0)} Z")
    return dict(type="path", xref="paper", yref="paper", path=pts, layer="above",
                fillcolor="rgba(255,255,255,0.8)", line=dict(color="#d0d0d0", width=1))


def legend_box(x0, y0, x1, y1, mx, tx, ys):
    shapes.append(rounded_rect(x0, y0, x1, y1))
    for name, col, yy in zip(LEGEND_NAMES, LEGEND_COLORS, ys):
        shapes.append(dict(type="circle", xref="paper", yref="paper", layer="above",
                           x0=px(mx - 4), x1=px(mx + 4), y0=py(yy + 4), y1=py(yy - 4),
                           fillcolor=col, line=dict(color=col, width=0)))
        txt(tx, yy, name, size=12, xanchor="left")


# header text
txt(6, 18, "(d) d<sub>xz</sub> and (e) d<sub>x²−y²</sub>", size=20, family=SERIF, xanchor="left", color="black")
txt(510, 40, ".", size=16, family=SERIF, color="black")

# panel letters & axis titles
txt(25, 104, "(a)", size=14)
txt(25, 308, "(b)", size=14)
txt(553, 102, "(a)", size=14)
txt(553, 313, "(b)", size=14)
txt(22, 174, "Energy (eV)", size=12.5, angle=-90)
txt(22, 378, "Energy (eV)", size=12.5, angle=-90)
txt(549, 176, "Energy (eV)", size=12.5, angle=-90)
txt(549, 383, "Energy (eV)", size=12.5, angle=-90)
txt(464, 172, "spin projection", size=13, angle=90)
txt(464, 377, "spin projection", size=13, angle=90)
txt(1008, 176, "spin projection", size=13, angle=90)
txt(1008, 383, "spin projection", size=13, angle=90)

# exchange-splitting arrows and labels
arrow("x", "y", 0.542, 4.51, 1.91)
label("x", "y", 0.556, 2.43, "ΔE<sub>EX</sub>-δE<sub>EX</sub>")
arrow("x2", "y2", 0.527, 4.43, 1.32)
label("x2", "y2", 0.537, 2.17, "ΔE<sub>EX</sub> + δE<sub>EX</sub>")
arrow("x3", "y3", 2.05, -1.56, -2.90)
label("x3", "y3", 2.27, -0.98, "ΔE<sub>EX</sub> − δE<sub>EX</sub>", xanchor="center")
arrow("x4", "y4", 1.93, -0.48, -1.62)
label("x4", "y4", 2.37, 0.29, "ΔE<sub>EX</sub> +δE<sub>EX</sub>", xanchor="center")

# legends (matplotlib-style boxes)
legend_box(269, 97, 373, 133, 286, 305, [107, 123])
legend_box(269, 302, 373, 337, 286, 305, [311, 327])
legend_box(812, 98, 917, 135, 828, 847, [108, 125])
legend_box(812, 306, 917, 342, 828, 847, [315, 332])

# figure frames
shapes.insert(0, dict(type="rect", xref="paper", yref="paper", x0=px(8), x1=px(477), y0=py(487), y1=py(80),
                      line=dict(color="#d4d4d4", width=1), fillcolor="rgba(0,0,0,0)", layer="below"))
shapes.insert(0, dict(type="rect", xref="paper", yref="paper", x0=px(537), x1=px(1020), y0=py(494), y1=py(80),
                      line=dict(color="#d4d4d4", width=1), fillcolor="rgba(0,0,0,0)", layer="below"))

fig.update_layout(
    width=W, height=H, autosize=False, margin=dict(l=0, r=0, t=0, b=0),
    paper_bgcolor="white", plot_bgcolor="white", showlegend=False,
    xaxis=xax(48, 380, "y", KL_TICKS, KL_LABELS, [0, 1]),
    yaxis=yax(92, 256, "x", LEFT_YTICKS, LEFT_YTEXT, [-1, 6]),
    xaxis2=xax(48, 380, "y2", KL_TICKS, KL_LABELS, [0, 1]),
    yaxis2=yax(295, 460, "x2", LEFT_YTICKS, LEFT_YTEXT, [-1, 6]),
    xaxis3=xax(587, 923, "y3", KR_TICKS, KR_LABELS, [0, 4]),
    yaxis3=yax(93, 260, "x3", RIGHT_YTICKS, RIGHT_YTEXT, [-4, 4]),
    xaxis4=xax(587, 923, "y4", KR_TICKS, KR_LABELS, [0, 4]),
    yaxis4=yax(299, 466, "x4", RIGHT_YTICKS, RIGHT_YTEXT, [-4, 4]),
    coloraxis=cax(VMAX[0], 410, 97, 150, 17, CB_LEFT_TICKS, CB_LEFT_TEXT),
    coloraxis2=cax(VMAX[1], 410, 301, 151, 17, CB_LEFT_TICKS, CB_LEFT_TEXT),
    coloraxis3=cax(VMAX[2], 954, 98, 153, 14, CB_RIGHT_TICKS, CB_RIGHT_TEXT),
    coloraxis4=cax(VMAX[3], 954, 305, 153, 14, CB_RIGHT_TICKS, CB_RIGHT_TEXT),
    annotations=annotations,
    shapes=shapes,
    font=dict(family=FONT, color="#222"),
)

fig.write_html("out.html")
